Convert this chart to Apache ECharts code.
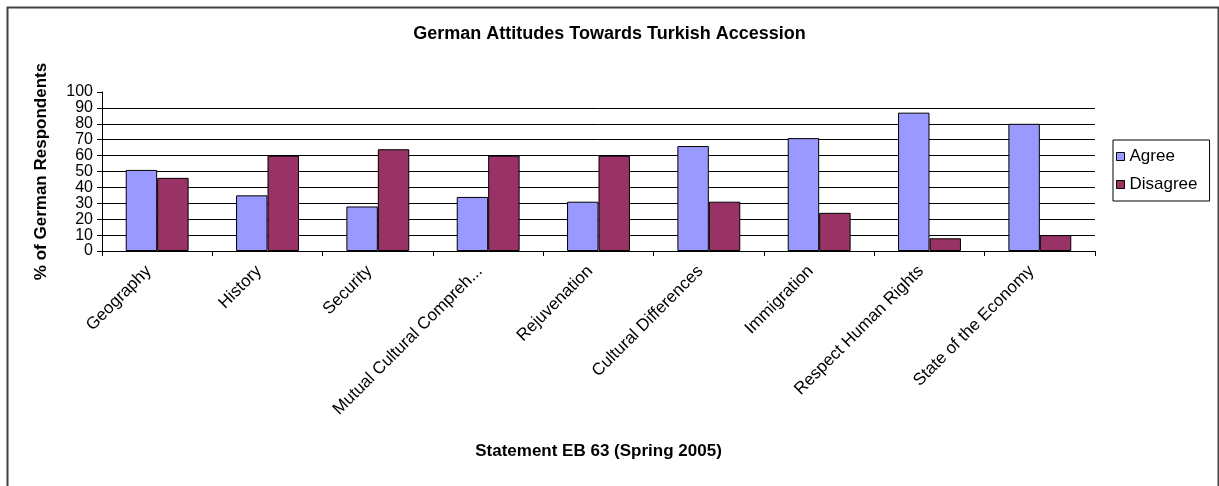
<!DOCTYPE html>
<html>
<head>
<meta charset="utf-8">
<script src="https://cdn.jsdelivr.net/npm/echarts@6/dist/echarts.min.js"></script>
<style>
html,body{margin:0;padding:0;background:#fff;}
#chart{width:1219px;height:486px;}
</style>
</head>
<body>
<div id="chart"></div>
<script>
const categories = ['Geography','History','Security','Mutual Cultural Compreh...','Rejuvenation','Cultural Differences','Immigration','Respect Human Rights','State of the Economy'];
const agree = [51, 35, 28, 34, 31, 66, 71, 87, 80];
const disagree = [46, 60, 64, 60, 60, 31, 24, 8, 10];
const yTicks = [0,10,20,30,40,50,60,70,80,90,100];

const FONT = 'Liberation Sans, Arial, sans-serif';
const chart = echarts.init(document.getElementById('chart'));
chart.setOption({
  animation: false,
  textStyle: { fontFamily: FONT, color: '#000' },
  graphic: [{
    type: 'rect', left: 5, top: 5,
    shape: { width: 1211, height: 500 },
    style: { fill: 'none', stroke: '#404040', lineWidth: 2 }
  }],
  title: {
    text: 'German Attitudes Towards Turkish Accession',
    left: 'center', top: 20,
    textStyle: { fontFamily: FONT, fontSize: 18, fontWeight: 'bold', color: '#000' }
  },
  legend: {
    orient: 'vertical', left: 1113, top: 140,
    padding: [8, 12, 8, 3],
    itemGap: 11,
    itemWidth: 8, itemHeight: 8,
    borderColor: '#000', borderWidth: 1,
    textStyle: { fontFamily: FONT, fontSize: 17, color: '#000' },
    data: [
      { name: 'Agree', icon: 'rect', itemStyle: { borderColor: '#000', borderWidth: 1 } },
      { name: 'Disagree', icon: 'rect', itemStyle: { borderColor: '#000', borderWidth: 1 } }
    ]
  },
  grid: { left: 102, right: 124, top: 92, bottom: 235 },
  xAxis: {
    type: 'category', data: categories,
    name: 'Statement EB 63 (Spring 2005)',
    nameLocation: 'middle', nameGap: 192,
    nameTextStyle: { fontFamily: FONT, fontSize: 17, fontWeight: 'bold', color: '#000' },
    axisLine: { lineStyle: { color: '#000', width: 1 } },
    axisTick: { show: true, length: 5, lineStyle: { color: '#000' } },
    axisLabel: { rotate: 45, interval: 0, fontFamily: FONT, fontSize: 17, color: '#000', margin: 9, padding: [0, 12, 0, 0] }
  },
  yAxis: {
    type: 'value', min: 0, max: 100, interval: 10,
    name: '% of German Respondents',
    nameLocation: 'middle', nameGap: 52,
    nameTextStyle: { fontFamily: FONT, fontSize: 17, fontWeight: 'bold', color: '#000' },
    axisLine: { show: true, lineStyle: { color: '#000', width: 1 } },
    axisTick: { show: true, length: 5, lineStyle: { color: '#000' } },
    axisLabel: {
      fontFamily: FONT, fontSize: 16, color: '#000', margin: 9,
      formatter: v => yTicks.includes(v) ? String(v) : ''
    },
    splitLine: { show: true, showMaxLine: false, lineStyle: { color: '#000', width: 1 } }
  },
  series: [
    {
      name: 'Agree', type: 'bar', data: agree,
      barGap: '0%', barCategoryGap: '43%',
      itemStyle: { color: '#9999FF', borderColor: '#000', borderWidth: 1 }
    },
    {
      name: 'Disagree', type: 'bar', data: disagree,
      itemStyle: { color: '#993366', borderColor: '#000', borderWidth: 1 }
    }
  ]
});
</script>
</body>
</html>
